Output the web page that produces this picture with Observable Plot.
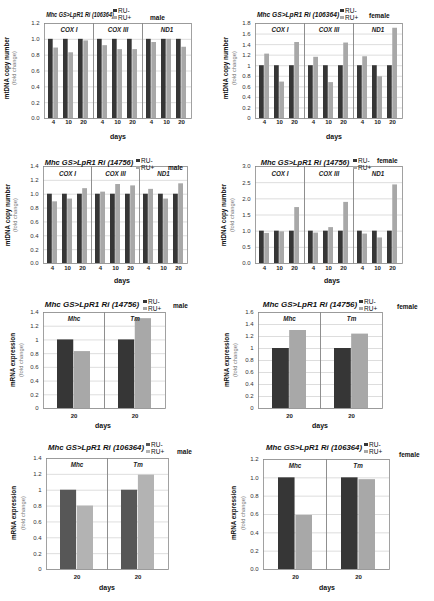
<!DOCTYPE html>
<html><head><meta charset="utf-8">
<script src="https://cdn.jsdelivr.net/npm/d3@7"></script>
<script src="https://cdn.jsdelivr.net/npm/@observablehq/plot@0.6"></script>
<style>
body{margin:0;background:#fff;font-family:"Liberation Sans",Arial,sans-serif;}
#root{position:relative;width:434px;height:601px;overflow:hidden;background:#fff;}
.p{position:absolute;}
.t{position:absolute;white-space:nowrap;line-height:1;color:#111;}
.sq{position:absolute;width:3.5px;height:3.5px;}
svg [aria-label^="x-axis"] text{font-weight:bold;fill:#222;}
svg [aria-label^="y-axis"] text{fill:#333;}
</style></head><body><div id="root"></div>
<script>
// ---------- data ----------
const mtGenes = ["COX I", "COX III", "ND1"];
const mtDays = ["4", "10", "20"];
const mrnaGenes = ["Mhc", "Tm"];
const mrnaDays = ["20"];
const series = ["RU-", "RU+"];

// mtDNA copy number, order: COX I (4,10,20), COX III (4,10,20), ND1 (4,10,20)
const mt106364MaleMinus = [1, 1, 1, 1, 1, 1, 1, 1, 1];
const mt106364MalePlus = [0.89, 0.83, 0.98, 0.92, 0.87, 0.87, 0.96, 1.00, 0.90];
const mt106364FemaleMinus = [1, 1, 1, 1, 1, 1, 1, 1, 1];
const mt106364FemalePlus = [1.22, 0.69, 1.44, 1.16, 0.68, 1.43, 1.17, 0.79, 1.71];
const mt14756MaleMinus = [1, 1, 1, 1, 1, 1, 1, 1, 1];
const mt14756MalePlus = [0.89, 0.93, 1.08, 1.03, 1.14, 1.12, 1.07, 0.93, 1.15];
const mt14756FemaleMinus = [1, 1, 1, 1, 1, 1, 1, 1, 1];
const mt14756FemalePlus = [0.93, 0.98, 1.73, 0.94, 1.11, 1.89, 0.91, 0.79, 2.43];

// mRNA expression, order: Mhc, Tm (day 20)
const mrna14756MaleMinus = [1, 1];
const mrna14756MalePlus = [0.83, 1.31];
const mrna14756FemaleMinus = [1, 1];
const mrna14756FemalePlus = [1.30, 1.24];
const mrna106364MaleMinus = [1, 1];
const mrna106364MalePlus = [0.80, 1.19];
const mrna106364FemaleMinus = [1, 1];
const mrna106364FemalePlus = [0.59, 0.98];

// y tick values
const ticks12 = [0, 0.2, 0.4, 0.6, 0.8, 1.0, 1.2];
const ticks14 = [0, 0.2, 0.4, 0.6, 0.8, 1.0, 1.2, 1.4];
const ticks16 = [0, 0.2, 0.4, 0.6, 0.8, 1.0, 1.2, 1.4, 1.6];
const ticks18 = [0, 0.2, 0.4, 0.6, 0.8, 1.0, 1.2, 1.4, 1.6, 1.8];
const ticks30 = [0, 0.5, 1.0, 1.5, 2.0, 2.5, 3.0];

const titles = ["Mhc GS>LpR1 Ri (106364)", "Mhc GS>LpR1 Ri (14756)"];
const sexes = ["male", "female"];
const yLabels = ["mtDNA copy number", "mRNA expression"];
const ySub = "(fold change)";
const xLabel = "days";

const fmtFixed = d3.format(".1f");
const fmtShort = d => String(+d.toFixed(1));

// ---------- layout ----------
const root = document.getElementById("root");
const DARK = "#363636", LIGHT = "#a8a8a8";

function makeData(genes, days, minus, plus) {
  const out = [];
  genes.forEach((g, i) => days.forEach((d, j) => {
    const k = i * days.length + j;
    out.push({gene: g, day: d, minus: minus[k], plus: plus[k]});
  }));
  return out;
}

function panel(c) {
  const data = makeData(c.genes, c.days, c.minus, c.plus);
  const fw = (c.W - c.ml - c.mr) / c.genes.length;
  const n = c.days.length;
  const step = fw / Math.max(1, n - c.pi + 2 * c.po);
  const bw = step * (1 - c.pi);
  const chart = Plot.plot({
    width: c.W, height: c.H,
    marginLeft: c.ml, marginRight: c.mr, marginTop: c.mt, marginBottom: c.mb,
    style: {fontFamily: "'Liberation Sans', Arial, sans-serif", fontSize: "6px", background: "transparent", overflow: "visible", color: "#222"},
    fx: {domain: c.genes, paddingInner: 0, paddingOuter: 0, axis: null, label: null},
    x: {domain: c.days, paddingInner: c.pi, paddingOuter: c.po, tickSize: 0, tickPadding: c.xPad, label: null},
    y: {domain: [0, c.yMax], ticks: c.ticks, tickFormat: c.fmt, tickSize: 0, tickPadding: 5, label: null},
    marks: [
      Plot.ruleY(c.ticks, {stroke: "#cfcfcf", strokeWidth: 0.7}),
      Plot.barY(data, {fx: "gene", x: "day", y: "minus", fill: c.dark || DARK, insetLeft: 0, insetRight: bw / 2}),
      Plot.barY(data, {fx: "gene", x: "day", y: "plus", fill: c.light || LIGHT, insetLeft: bw / 2, insetRight: 0}),
      Plot.frame({stroke: "#8a8a8a", strokeWidth: 0.8}),
      Plot.text(c.genes, {fx: d => d, text: d => d, frameAnchor: "top", lineAnchor: "middle", dy: c.geneDy, fontStyle: "italic", fontWeight: "bold", fontSize: 6.3, fill: "#222"})
    ]
  });
  chart.classList.add("p");
  chart.style.left = c.left + "px";
  chart.style.top = c.top + "px";
  root.appendChild(chart);

  // title
  text(c.title, c.tx, c.ty, {fontSize: c.tfs + "px", fontWeight: "bold", fontStyle: "italic", transform: `translate(-50%,-50%) scaleX(${c.tsx})`});
  // legend
  square(c.lx, c.ly, c.dark || DARK);
  square(c.lx, c.ly + 7, c.light || LIGHT);
  text(series[0], c.lx + 5, c.ly + 1.5, {fontSize: "6.5px", transform: "translate(0,-50%)"});
  text(series[1], c.lx + 5, c.ly + 8.5, {fontSize: "6.5px", transform: "translate(0,-50%)"});
  text(c.sex, c.sx, c.sy, {fontSize: "6.5px", fontWeight: "bold", transform: "translate(0,-50%)"});
  // y labels
  text(c.ylab, c.yx, c.yy, {fontSize: "6.3px", fontWeight: "bold", transform: "translate(-50%,-50%) rotate(-90deg)"});
  text(ySub, c.yx + c.yd, c.yy, {fontSize: "5.8px", color: "#777", transform: "translate(-50%,-50%) rotate(-90deg)"});
  // x label
  text(xLabel, c.dx, c.dy, {fontSize: "7px", fontWeight: "bold", transform: "translate(-50%,-50%)"});
}

function text(s, x, y, st) {
  const d = document.createElement("div");
  d.className = "t";
  d.textContent = s;
  d.style.left = x + "px";
  d.style.top = y + "px";
  Object.assign(d.style, st);
  root.appendChild(d);
}
function square(x, y, col) {
  const d = document.createElement("div");
  d.className = "sq";
  d.style.left = x + "px";
  d.style.top = (y - 0.5) + "px";
  d.style.background = col;
  root.appendChild(d);
}

const mtPad = {pi: 0.33, po: 0.23};
const mrPad = {pi: 0, po: 0.41};

// row 1
panel({left: 0, top: 0, W: 217, H: 132, ml: 43, mr: 25, mt: 23, mb: 14, ...mtPad, xPad: 1, geneDy: 6,
  genes: mtGenes, days: mtDays, minus: mt106364MaleMinus, plus: mt106364MalePlus, yMax: 1.2, ticks: ticks12, fmt: fmtFixed,
  title: titles[0], tx: 80, ty: 14, tfs: 7, tsx: 0.78, lx: 113, ly: 9, sex: sexes[0], sx: 150, sy: 18,
  ylab: yLabels[0], yx: 7, yy: 68, yd: 8, dx: 118, dy: 136});
panel({left: 217, top: 0, W: 217, H: 132, ml: 38, mr: 32, mt: 23, mb: 14, ...mtPad, xPad: 1, geneDy: 6,
  genes: mtGenes, days: mtDays, minus: mt106364FemaleMinus, plus: mt106364FemalePlus, yMax: 1.8, ticks: ticks18, fmt: fmtShort,
  title: titles[0], tx: 298, ty: 14, tfs: 7, tsx: 0.95, lx: 340, ly: 9, sex: sexes[1], sx: 369, sy: 16,
  ylab: yLabels[0], yx: 226, yy: 68, yd: 9, dx: 334, dy: 136});
// row 2
panel({left: 0, top: 150, W: 217, H: 130, ml: 42, mr: 29, mt: 16, mb: 17, ...mtPad, xPad: 2, geneDy: 7,
  genes: mtGenes, days: mtDays, minus: mt14756MaleMinus, plus: mt14756MalePlus, yMax: 1.4, ticks: ticks14, fmt: fmtFixed,
  title: titles[1], tx: 89, ty: 163, tfs: 7.5, tsx: 1.0, lx: 136, ly: 159, sex: sexes[0], sx: 168, sy: 168,
  ylab: yLabels[0], yx: 8, yy: 215, yd: 8, dx: 122, dy: 280});
panel({left: 217, top: 150, W: 217, H: 130, ml: 38, mr: 32, mt: 16, mb: 17, ...mtPad, xPad: 2, geneDy: 7,
  genes: mtGenes, days: mtDays, minus: mt14756FemaleMinus, plus: mt14756FemalePlus, yMax: 3.0, ticks: ticks30, fmt: fmtFixed,
  title: titles[1], tx: 305, ty: 163, tfs: 7.5, tsx: 1.0, lx: 353, ly: 159, sex: sexes[1], sx: 377, sy: 161,
  ylab: yLabels[0], yx: 224, yy: 215, yd: 9, dx: 332, dy: 280});
// row 3
panel({left: 0, top: 290, W: 217, H: 132, ml: 43, mr: 52, mt: 22, mb: 14, ...mrPad, xPad: 5, geneDy: 6,
  genes: mrnaGenes, days: mrnaDays, minus: mrna14756MaleMinus, plus: mrna14756MalePlus, yMax: 1.4, ticks: ticks14, fmt: fmtShort,
  title: titles[1], tx: 92, ty: 305, tfs: 8, tsx: 1.0, lx: 143, ly: 300, sex: sexes[0], sx: 173, sy: 306,
  ylab: yLabels[1], yx: 13, yy: 360, yd: 9, dx: 103, dy: 425});
panel({left: 217, top: 290, W: 217, H: 132, ml: 40, mr: 52, mt: 22, mb: 14, ...mrPad, xPad: 5, geneDy: 6,
  genes: mrnaGenes, days: mrnaDays, minus: mrna14756FemaleMinus, plus: mrna14756FemalePlus, yMax: 1.6, ticks: ticks16, fmt: fmtShort,
  title: titles[1], tx: 310, ty: 305, tfs: 8, tsx: 1.0, lx: 359, ly: 300, sex: sexes[1], sx: 397, sy: 307,
  ylab: yLabels[1], yx: 227, yy: 360, yd: 9, dx: 320, dy: 425});
// row 4
panel({left: 0, top: 445, W: 217, H: 140, ml: 45, mr: 49, mt: 13, mb: 16, ...mrPad, xPad: 5, geneDy: 6,
  genes: mrnaGenes, days: mrnaDays, minus: mrna106364MaleMinus, plus: mrna106364MalePlus, yMax: 1.4, ticks: ticks14, fmt: fmtShort,
  dark: "#575757", light: "#b3b3b3",
  title: titles[0], tx: 96, ty: 448, tfs: 8, tsx: 0.97, lx: 146, ly: 443, sex: sexes[0], sx: 177, sy: 452,
  ylab: yLabels[1], yx: 14, yy: 513, yd: 10, dx: 107, dy: 587});
panel({left: 217, top: 445, W: 217, H: 140, ml: 45, mr: 45, mt: 14, mb: 16, ...mrPad, xPad: 5, geneDy: 6,
  genes: mrnaGenes, days: mrnaDays, minus: mrna106364FemaleMinus, plus: mrna106364FemalePlus, yMax: 1.2, ticks: ticks12, fmt: fmtFixed,
  title: titles[0], tx: 314, ty: 448, tfs: 8, tsx: 0.97, lx: 364, ly: 443, sex: sexes[1], sx: 399, sy: 455,
  ylab: yLabels[1], yx: 234, yy: 513, yd: 10, dx: 327, dy: 587});
</script></body></html>
